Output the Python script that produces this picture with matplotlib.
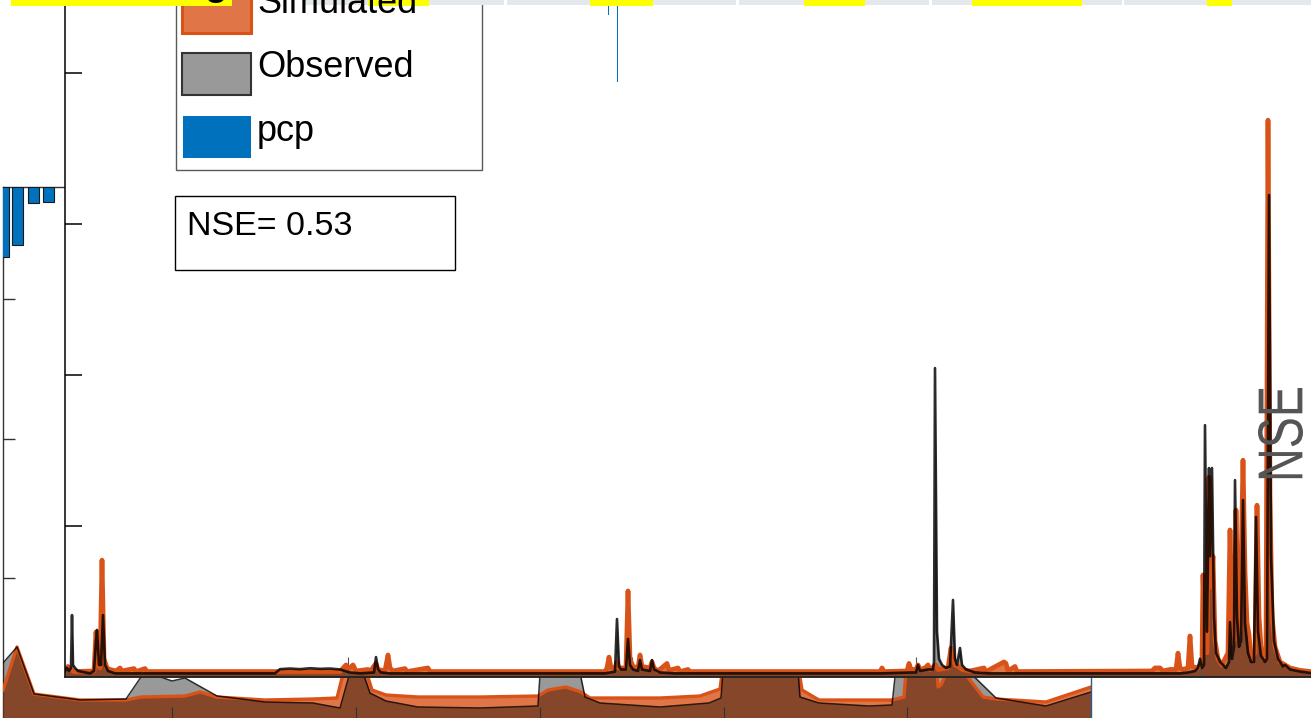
import matplotlib
matplotlib.use('Agg')
import matplotlib.pyplot as plt
from matplotlib.patches import Rectangle, PathPatch
from matplotlib.textpath import TextPath
from matplotlib.font_manager import FontProperties
from matplotlib.transforms import Affine2D

plt.rcParams['font.family'] = ['Liberation Sans', 'DejaVu Sans']

# ---------------- data ----------------
# main hydrograph (day index, discharge)
sim_day = [0, 3, 5, 9, 29, 31, 33, 35, 37, 39, 42, 45, 51, 55, 57, 69, 71, 80, 82,
           275, 281, 283, 288, 291, 303, 305, 311, 313, 320, 323, 325, 328, 340, 342, 363, 365,
           540, 542, 544, 546, 550, 552, 554, 561, 563, 565, 568, 573, 575, 577, 585, 587, 589,
           593, 602, 604, 613, 615, 623, 625,
           815, 817, 819, 842, 844, 846, 851, 853, 855, 860, 863, 865, 871, 873, 883, 886, 888,
           890, 893, 897, 905, 919, 921, 939, 941, 943, 950, 952,
           1087, 1090, 1095, 1098, 1105, 1111, 1113, 1115, 1118, 1123, 1125, 1127, 1133, 1137,
           1138, 1140, 1142, 1144, 1146, 1148, 1150, 1153, 1157, 1163, 1165, 1167, 1169, 1171,
           1173, 1175, 1178, 1180, 1182, 1184, 1186, 1190, 1192, 1194, 1196, 1199, 1201, 1203,
           1205, 1207, 1210, 1215, 1225, 1235, 1246]
sim_q = [2.5, 3.5, 2.5, 1.8, 2.0, 14.9, 4.0, 3.0, 38.7, 6.0, 3.0, 2.5, 2.0, 3.0, 2.0, 2.8, 1.8, 2.8, 1.8,
         1.8, 4.0, 2.5, 4.0, 2.0, 2.5, 1.8, 4.5, 2.5, 2.0, 7.3, 3.0, 2.0, 2.8, 1.8, 3.0, 1.8,
         1.8, 3.0, 6.6, 3.0, 3.0, 5.0, 3.0, 3.0, 28.5, 6.0, 3.5, 3.0, 7.3, 3.5, 3.0, 5.0, 3.0,
         2.0, 4.5, 2.2, 3.0, 1.8, 2.5, 1.8,
         1.8, 3.0, 1.8, 2.0, 4.5, 2.5, 2.5, 4.0, 2.5, 3.0, 4.0, 2.5, 4.0, 2.5, 3.0, 9.6, 7.0,
         4.0, 3.5, 2.5, 2.0, 3.0, 1.8, 5.0, 4.5, 2.0, 3.5, 1.8,
         2.0, 3.0, 3.0, 2.0, 2.5, 2.5, 7.9, 3.0, 2.5, 3.0, 13.6, 3.5, 3.0, 5.0,
         33.8, 10.0, 8.0, 66.2, 30.0, 40.0, 12.0, 6.0, 4.0, 8.0, 48.7, 20.0, 12.0, 55.3,
         25.0, 15.0, 71.8, 35.0, 18.0, 14.0, 6.0, 8.0, 56.9, 20.0, 10.0, 6.0, 8.0, 184.4,
         60.0, 20.0, 10.0, 5.0, 3.0, 2.2, 1.8]

obs_day = [0, 2, 4, 6, 7, 8, 10, 13, 25, 29, 31, 32, 34, 36, 38, 40, 43, 50,
           210, 215, 225, 235, 245, 255, 265, 275, 285, 295, 309, 311, 313, 316, 325,
           540, 550, 552, 554, 556, 561, 563, 565, 568, 573, 575, 577, 585, 587, 589, 595, 610,
           815, 847, 851, 853, 855, 863, 868, 869, 870, 872, 874, 877, 881, 885, 888, 890, 892,
           895, 897, 901, 910, 925,
           1115, 1123, 1130, 1133, 1135, 1137, 1139, 1140, 1142, 1144, 1145, 1147, 1149, 1151,
           1155, 1161, 1164, 1165, 1167, 1169, 1170, 1172, 1174, 1176, 1178, 1180, 1183, 1186,
           1189, 1191, 1193, 1196, 1200, 1202, 1204, 1206, 1209, 1213, 1218, 1220, 1225, 1235, 1246]
obs_q = [2.0, 3.0, 2.0, 3.0, 20.5, 4.0, 3.0, 2.0, 1.2, 2.0, 12.0, 15.6, 4.0, 4.0, 20.5, 4.0, 2.0, 1.2,
         1.2, 2.6, 2.8, 2.6, 2.9, 2.7, 2.8, 2.5, 1.5, 1.2, 1.5, 6.6, 2.5, 1.5, 1.2,
         1.2, 1.8, 19.2, 3.5, 2.5, 2.5, 12.6, 4.0, 2.5, 2.0, 5.6, 2.5, 2.0, 5.6, 2.5, 1.5, 1.2,
         1.2, 1.5, 1.5, 4.0, 2.0, 2.5, 2.5, 5.0, 102.3, 15.0, 6.0, 4.0, 3.0, 3.5, 25.5, 6.0, 4.0,
         9.6, 4.0, 2.5, 1.5, 1.2,
         1.2, 1.5, 2.0, 3.0, 6.0, 3.0, 4.0, 83.4, 15.0, 69.2, 40.0, 69.2, 20.0, 8.0,
         5.0, 3.0, 5.0, 18.2, 6.0, 10.0, 65.2, 20.0, 10.0, 12.0, 58.6, 18.0, 8.0, 5.0,
         5.0, 53.0, 15.0, 7.0, 5.0, 6.0, 159.6, 40.0, 12.0, 6.0, 3.5, 4.0, 2.5, 1.8, 1.3]

# precipitation hanging from the top of the main panel
pcp_main_day = [543, 552]
pcp_main_mm = [1.5, 8.2]

# small left panel precipitation
pcp_left_x = [0.5, 14.5, 30.5, 45.5]
pcp_left_mm = [7.0, 5.75, 1.6, 1.5]

# lower panel (partly hidden) series
bot_obs_x = [3, 17, 34, 80, 126, 141, 158, 172, 185, 217, 265, 313, 340, 354, 358, 370, 386,
             418, 480, 538, 541, 577, 585, 600, 660, 709, 721, 724, 797, 800, 819, 869, 892,
             897, 955, 996, 1046, 1091]
bot_obs_v = [5.5, 7.1, 2.4, 1.8, 1.9, 4.1, 4.2, 3.7, 4.0, 2.2, 1.6, 1.5, 1.0, 6.0, 6.0, 2.5, 1.7,
             1.1, 1.0, 1.2, 6.0, 6.0, 2.1, 1.5, 1.1, 1.5, 2.0, 6.0, 6.0, 2.1, 1.5, 1.2, 1.3,
             6.0, 6.0, 2.0, 1.2, 2.6]
bot_sim_x = [3, 17, 34, 80, 126, 141, 185, 200, 217, 265, 313, 337, 347, 362, 372, 386, 418,
             480, 538, 548, 566, 581, 590, 660, 700, 720, 724, 797, 802, 819, 869, 892, 904,
             907, 936, 938, 941, 953, 983, 996, 1046, 1091]
bot_sim_v = [2.8, 7.1, 2.4, 1.8, 1.8, 2.1, 2.2, 2.6, 2.1, 1.8, 1.9, 2.0, 6.0, 6.0, 2.8, 2.3, 2.1,
             2.1, 2.2, 2.8, 3.1, 2.6, 2.0, 2.0, 2.2, 2.9, 6.0, 6.0, 2.8, 1.8, 1.8, 1.8, 2.1,
             6.0, 6.0, 3.1, 3.3, 6.0, 2.1, 1.9, 1.6, 3.1]

legend_labels = ['Simulated', 'Observed', 'pcp']
nse_value = 0.53

ORANGE = '#D95319'
BLUE = '#0072BD'

# ---------------- figure ----------------
W, H = 1311, 718
fig = plt.figure(figsize=(W / 100, H / 100), dpi=100)


def px_axes(x0, y0, x1, y1, z):
    ax = fig.add_axes([x0 / W, 1 - y1 / H, (x1 - x0) / W, (y1 - y0) / H])
    ax.set_zorder(z)
    return ax


# left small panel
ax_l = px_axes(3, 187, 200, 718, 1)
ax_l.set_facecolor('none')
ax_l.set_xlim(0, 197)
ax_l.set_ylim(0, 3.806)
ax_l.set_yticks([1, 2, 3])
ax_l.set_yticklabels([])
ax_l.set_xticks([])
ax_l.tick_params(axis='y', direction='in', length=8.6, width=1, color='#333333')
for s in ['right', 'bottom']:
    ax_l.spines[s].set_visible(False)
for s in ['left', 'top']:
    ax_l.spines[s].set_color('#333333')
    ax_l.spines[s].set_linewidth(1.0)

ax_lp = px_axes(3, 187, 200, 718, 1.5)
ax_lp.set_facecolor('none')
ax_lp.axis('off')
ax_lp.set_xlim(0, 197)
ax_lp.set_ylim(53.1, 0)
ax_lp.bar(pcp_left_x, pcp_left_mm, width=11, color=BLUE, edgecolor='#1a1a1a', linewidth=0.8)

# bottom panel
ax_b = px_axes(3, 560, 1091, 718, 2)
ax_b.set_facecolor('none')
ax_b.set_xlim(3, 1091)
ax_b.set_ylim(0, 15.8)
ax_b.fill_between(bot_sim_x, 0, bot_sim_v, color=ORANGE, alpha=0.8, linewidth=0)
ax_b.plot(bot_sim_x, bot_sim_v, color=ORANGE, lw=2.4)
ax_b.fill_between(bot_obs_x, 0, bot_obs_v, color='black', alpha=0.4, linewidth=0)
ax_b.plot(bot_obs_x, bot_obs_v, color='black', lw=1.1, alpha=0.8)
for s in ['left', 'top', 'bottom']:
    ax_b.spines[s].set_visible(False)
ax_b.spines['right'].set_color('#2e5f8a')
ax_b.spines['right'].set_linewidth(1.0)
ax_b.set_xticks([172, 356, 540, 724, 907])
ax_b.set_xticklabels([])
ax_b.set_yticks([])
ax_b.tick_params(axis='x', direction='in', length=8, width=0.8, color='#333333')

# main panel
ax_m = px_axes(65, 0, 1311, 677, 3)
ax_m.set_facecolor('white')
ax_m.set_xlim(0, 1246)
ax_m.set_ylim(0, 224.2)
ax_m.fill_between(sim_day, 0, sim_q, color=ORANGE, alpha=0.8, linewidth=0)
ax_m.plot(sim_day, sim_q, color=ORANGE, lw=3.4, solid_joinstyle='round', solid_capstyle='round')
ax_m.fill_between(obs_day, 0, obs_q, color='black', alpha=0.4, linewidth=0)
ax_m.plot(obs_day, obs_q, color='black', lw=1.9, alpha=0.82)
ax_m.spines['top'].set_visible(False)
ax_m.spines['right'].set_visible(False)
ax_m.spines['left'].set_linewidth(1.1)
ax_m.spines['bottom'].set_linewidth(1.3)
ax_m.spines['bottom'].set_color('#222222')
ax_m.set_yticks([50, 100, 150, 200])
ax_m.set_yticklabels([])
ax_m.tick_params(axis='y', direction='in', length=12.2, width=1.1, color='black')
ax_m.set_xticks([283, 567, 851, 1135])
ax_m.set_xticklabels([])
ax_m.tick_params(axis='x', direction='in', length=14.4, width=0.8, color='#555555')

# precipitation overlay on main panel
ax_mp = px_axes(65, 0, 1311, 677, 4)
ax_mp.set_facecolor('none')
ax_mp.axis('off')
ax_mp.set_xlim(0, 1246)
ax_mp.set_ylim(67.7, 0)
ax_mp.bar(pcp_main_day, pcp_main_mm, width=1.0, color=BLUE, linewidth=0)

# overlay for annotation boxes
ax_o = px_axes(0, 0, W, H, 10)
ax_o.set_facecolor('none')
ax_o.axis('off')
ax_o.set_xlim(0, W)
ax_o.set_ylim(H, 0)

# legend
ax_o.add_patch(Rectangle((176, -30), 306, 200, facecolor='white', edgecolor='#595959', lw=1.0))
ax_o.add_patch(Rectangle((182, -9), 69, 42, facecolor=(0.851, 0.325, 0.098, 0.8),
                         edgecolor=ORANGE, lw=2.2))
ax_o.add_patch(Rectangle((182, 53), 69, 42, facecolor='#999999', edgecolor='#333333', lw=1.5))
ax_o.add_patch(Rectangle((183, 116), 68, 42, facecolor=BLUE, edgecolor='none'))
for lab, yb in zip(legend_labels, [13, 77, 141]):
    ax_o.text(257, yb, lab, fontsize=26, va='baseline', ha='left', color='black')

# NSE box
ax_o.add_patch(Rectangle((175, 196), 280, 74, facecolor='white', edgecolor='black', lw=1.0))
ax_o.text(187, 235, f'NSE= {nse_value:.2f}', fontsize=24.5, va='baseline', ha='left', color='black')

# rotated NSE label (stretched to match)
fp = FontProperties(family='Liberation Sans')
tp = TextPath((0, 0), 'NSE', size=100, prop=fp)
v = tp.vertices
xmin, xmax = v[:, 0].min(), v[:, 0].max()
ymin, ymax = v[:, 1].min(), v[:, 1].max()
L, Hc = xmax - xmin, ymax - ymin
bx0, bx1, by0, by1 = 1258, 1303, 388, 482
sx = (bx1 - bx0) / Hc
sy = (by1 - by0) / L
tr = Affine2D([[0, -sx, bx1 + ymin * sx], [-sy, 0, by1 + xmin * sy], [0, 0, 1]])
ax_o.add_patch(PathPatch(tp, transform=tr + ax_o.transData, facecolor='#555555',
                         edgecolor='none'))

# cut-off title descender
ax_o.text(205, -5, 'g', fontsize=27, fontweight='bold', va='baseline', ha='left', color='black')

# top strip
gray_segs = [(305, 368), (429, 504), (507, 590), (653, 736), (739, 804), (865, 929),
             (932, 972), (1082, 1122), (1124, 1207), (1232, 1311)]
yellow_segs = [(11, 232), (368, 429), (590, 653), (804, 865), (972, 1082), (1207, 1232)]
for a, b in gray_segs:
    ax_o.add_patch(Rectangle((a, 0), b - a, 4.7, facecolor='#E5E8EB', edgecolor='none'))
for a, b in yellow_segs:
    ax_o.add_patch(Rectangle((a, 0), b - a, 5.7, facecolor='#FFFF00', edgecolor='none'))

fig.savefig('out.png', dpi=100)
